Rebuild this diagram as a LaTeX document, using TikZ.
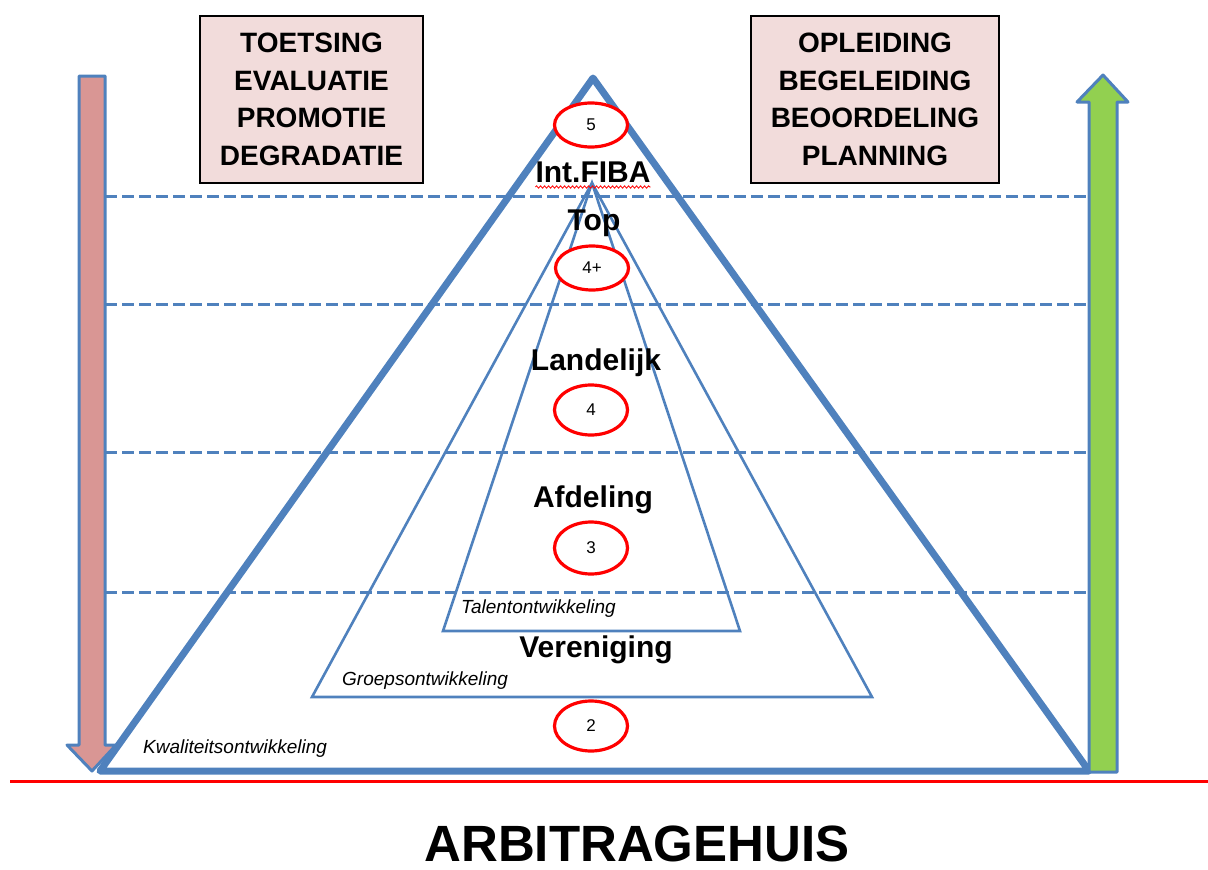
\documentclass[tikz,border=0pt]{standalone}
\usepackage{fontspec}
\setmainfont{Liberation Sans}
\usetikzlibrary{shapes.geometric,decorations.pathmorphing}
\definecolor{pyr}{HTML}{4F81BD}
\definecolor{pinkfill}{HTML}{D99694}
\definecolor{greenfill}{HTML}{92D050}
\definecolor{boxfill}{HTML}{F2DCDB}
\begin{document}
\begin{tikzpicture}[x=1pt,y=-1pt,
  infobox/.style={draw=black,line width=1.3pt,fill=boxfill,align=center,inner sep=0pt,
    minimum height=167pt,font=\fontsize{28}{37.5}\selectfont\bfseries},
  levellabel/.style={anchor=base,inner sep=0pt,font=\fontsize{30}{36}\selectfont\bfseries},
  smalllabel/.style={anchor=base west,inner sep=0pt,font=\fontsize{19}{22}\selectfont\itshape},
  numoval/.style={ellipse,draw=red,line width=3.2pt,fill=white,inner sep=0pt,
    minimum width=73pt,font=\fontsize{17}{20}\selectfont},
  levelline/.style={draw=pyr,line width=3pt,dash pattern=on 12pt off 5pt},
  bigtri/.style={draw=pyr,line width=7pt,line join=round},
  smalltri/.style={draw=pyr,line width=2.6pt,line join=miter},
  arrowshape/.style={draw=pyr,line width=3pt,line join=round}
]
\useasboundingbox (0,0) rectangle (1208,870);

% level separators
\coordinate (d1l) at (105,196); \coordinate (d1r) at (1089,196);
\coordinate (d2l) at (105,304); \coordinate (d2r) at (1089,304);
\coordinate (d3l) at (105,452); \coordinate (d3r) at (1089,452);
\coordinate (d4l) at (105,592); \coordinate (d4r) at (1089,592);
\draw[levelline] (d1l) -- (d1r);
\draw[levelline] (d2l) -- (d2r);
\draw[levelline] (d3l) -- (d3r);
\draw[levelline] (d4l) -- (d4r);

% pyramids
\coordinate (apex) at (593,78);
\coordinate (bl) at (100,771);
\coordinate (br) at (1089,771);
\coordinate (iapex) at (592,183);
\coordinate (ml) at (312,697);
\coordinate (mr) at (872,697);
\coordinate (sl) at (443,631);
\coordinate (sr) at (740,631);
\draw[smalltri] (iapex) -- (ml) -- (mr) -- cycle;
\draw[smalltri] (iapex) -- (sl) -- (sr) -- cycle;
\draw[bigtri] (apex) -- (bl) -- (br) -- cycle;

% side arrows
\draw[arrowshape,fill=pinkfill] (79,76) -- (105,76) -- (105,745) -- (116,745) -- (92,771) -- (67,745) -- (79,745) -- cycle;
\draw[arrowshape,fill=greenfill] (1089,772) -- (1117,772) -- (1117,102) -- (1128,102) -- (1103,75) -- (1077,102) -- (1089,102) -- cycle;

% boxes
\node[infobox,minimum width=223pt] (lbox) at (311.5,99.5) {TOETSING\\EVALUATIE\\PROMOTIE\\DEGRADATIE};
\node[infobox,minimum width=248pt] (rbox) at (875,99.5) {OPLEIDING\\BEGELEIDING\\BEOORDELING\\PLANNING};

% ovals
\node[numoval,minimum height=44pt] (n5) at (591,125) {5};
\node[numoval,minimum height=44pt] (n4p) at (592,268) {4+};
\node[numoval,minimum height=50pt] (n4) at (591,410) {4};
\node[numoval,minimum height=52pt] (n3) at (591,548) {3};
\node[numoval,minimum height=50pt] (n2) at (591,726) {2};

% level labels
\node[levellabel] (fiba) at (593,182) {Int.FIBA};
\draw[red,line width=0.8pt,decorate,decoration={snake,amplitude=1.2pt,segment length=4pt}]
  ([yshift=-5pt]fiba.base west) -- ([yshift=-5pt]fiba.base east);
\node[levellabel] (top) at (594,230) {Top};
\node[levellabel] (land) at (596,370) {Landelijk};
\node[levellabel] (afd) at (593,507) {Afdeling};
\node[levellabel] (ver) at (596,657) {Vereniging};

% development labels
\node[smalllabel] (kwal) at (143,753) {Kwaliteitsontwikkeling};
\node[smalllabel] (groep) at (342,685) {Groepsontwikkeling};
\node[smalllabel] (talent) at (461,613) {Talentontwikkeling};

% base rule and title
\coordinate (rl) at (10,781); \coordinate (rr) at (1208,781);
\draw[red,line width=3pt] (rl) -- (rr);
\node[anchor=base,inner sep=0pt,font=\fontsize{51}{60}\selectfont\bfseries] (title) at (637,861) {ARBITRAGEHUIS};
\end{tikzpicture}
\end{document}
